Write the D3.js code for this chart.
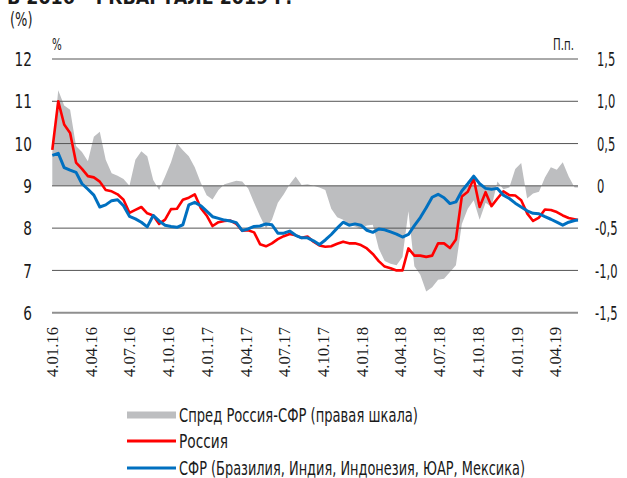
<!DOCTYPE html>
<html>
<head>
<meta charset="utf-8">
<script src="https://cdn.jsdelivr.net/npm/d3@7"></script>
<style>
  body { margin: 0; background: #fff; }
  text { font-family: "Liberation Sans Narrow", "Arial Narrow", "DejaVu Sans Condensed", sans-serif; fill: #1a1a1a; }
</style>
</head>
<body>
<div id="chart"></div>
<script>
// data (fortnightly points)
var dates = ["2016-01-04","2016-01-18","2016-02-01","2016-02-15","2016-02-29","2016-03-14","2016-03-28","2016-04-11","2016-04-25","2016-05-09","2016-05-23","2016-06-06","2016-06-20","2016-07-04","2016-07-18","2016-08-01","2016-08-15","2016-08-29","2016-09-12","2016-09-26","2016-10-10","2016-10-24","2016-11-07","2016-11-21","2016-12-05","2016-12-19",
  "2017-01-02","2017-01-16","2017-01-30","2017-02-13","2017-02-27","2017-03-13","2017-03-27","2017-04-10","2017-04-24","2017-05-08","2017-05-22","2017-06-05","2017-06-19","2017-07-03","2017-07-17","2017-07-31","2017-08-14","2017-08-28","2017-09-11","2017-09-25","2017-10-09","2017-10-23","2017-11-06","2017-11-20","2017-12-04","2017-12-18",
  "2018-01-01","2018-01-15","2018-01-29","2018-02-12","2018-02-26","2018-03-12","2018-03-26","2018-04-09","2018-04-23","2018-05-07","2018-05-21","2018-06-04","2018-06-18","2018-07-02","2018-07-16","2018-07-30","2018-08-13","2018-08-27","2018-09-10","2018-09-24","2018-10-08","2018-10-22","2018-11-05","2018-11-19","2018-12-03","2018-12-17","2018-12-31",
  "2019-01-14","2019-01-28","2019-02-11","2019-02-25","2019-03-11","2019-03-25","2019-04-08","2019-04-22","2019-05-06","2019-05-20","2019-05-28"];

var russia = [9.85,11.0,10.45,10.25,9.55,9.4,9.23,9.2,9.1,8.9,
  8.87,8.8,8.67,8.36,8.43,8.5,8.35,8.3,8.1,8.2,
  8.45,8.46,8.67,8.72,8.8,8.48,8.3,8.05,8.14,8.17,
  8.18,8.1,7.94,7.95,7.9,7.62,7.57,7.64,7.74,7.81,
  7.86,7.83,7.77,7.8,7.68,7.59,7.56,7.57,7.63,7.68,
  7.64,7.64,7.6,7.52,7.39,7.22,7.09,7.05,7.0,7.0,
  7.52,7.35,7.35,7.32,7.35,7.64,7.64,7.53,7.73,8.75,
  8.86,9.17,8.5,8.85,8.52,8.7,8.87,8.78,8.77,8.66,
  8.35,8.17,8.25,8.44,8.43,8.38,8.3,8.24,8.21,8.19];

var sfr = [9.72,9.77,9.43,9.37,9.32,9.05,8.92,8.78,8.5,8.55,
  8.65,8.67,8.53,8.28,8.22,8.14,8.03,8.3,8.17,8.07,
  8.04,8.02,8.08,8.55,8.61,8.53,8.4,8.27,8.23,8.19,
  8.17,8.13,7.94,7.98,8.04,8.05,8.1,8.08,7.88,7.88,
  7.93,7.83,7.77,7.77,7.7,7.61,7.72,7.85,8.0,8.14,
  8.07,8.1,8.07,7.95,7.9,7.98,7.96,7.91,7.86,7.79,
  7.85,8.06,8.25,8.48,8.73,8.8,8.72,8.58,8.62,8.88,
  9.05,9.23,9.05,8.94,8.92,8.94,8.78,8.7,8.59,8.5,
  8.41,8.35,8.34,8.27,8.21,8.14,8.07,8.14,8.18,8.19];

var spread = [0.4,1.13,0.95,0.9,0.47,0.4,0.29,0.58,0.64,0.31,
  0.15,0.12,0.08,0.0,0.31,0.41,0.35,0.07,-0.05,0.11,
  0.28,0.5,0.42,0.35,0.22,0.04,-0.11,-0.16,-0.05,0.02,
  0.04,0.06,0.05,-0.03,-0.2,-0.36,-0.5,-0.4,-0.2,-0.1,
  0.02,0.11,0.01,0.02,0.0,-0.02,-0.05,-0.27,-0.37,-0.4,
  -0.46,-0.48,-0.51,-0.47,-0.46,-0.74,-0.89,-0.92,-0.94,-0.84,
  -0.3,-0.95,-1.05,-1.25,-1.2,-1.11,-1.1,-1.02,-0.94,-0.45,
  -0.27,-0.17,-0.4,-0.2,-0.25,0.05,-0.04,-0.02,0.2,0.27,
  -0.15,-0.09,-0.07,0.1,0.22,0.19,0.28,0.11,-0.02,-0.02];

var tickDates = ["2016-01-04","2016-04-04","2016-07-04","2016-10-04","2017-01-04","2017-04-04","2017-07-04","2017-10-04","2018-01-04","2018-04-04","2018-07-04","2018-10-04","2019-01-04","2019-04-04"];
var tickLabels = ["4.01.16","4.04.16","4.07.16","4.10.16","4.01.17","4.04.17","4.07.17","4.10.17","4.01.18","4.04.18","4.07.18","4.10.18","4.01.19","4.04.19"];
var leftTicks = [6,7,8,9,10,11,12];
var rightTicks = [-1.5,-1,-0.5,0,0.5,1,1.5];
var legendNames = ["Спред Россия-СФР (правая шкала)","Россия","СФР (Бразилия, Индия, Индонезия, ЮАР, Мексика)"];

// setup
var w = 627;
var h = 478;
var parse = d3.utcParse("%Y-%m-%d");
var svg = d3.select("#chart")
            .append("svg")
            .attr("width", w)
            .attr("height", h)
            .style("display", "block")
            .style("background", "#fff");

var x = d3.scaleUtc()
          .domain([parse(dates[0]), parse(dates[dates.length - 1])])
          .range([52.3, 578]);
var yL = d3.scaleLinear().domain([6, 12]).range([312.7, 59]);
var yR = d3.scaleLinear().domain([-1.5, 1.5]).range([312.7, 59]);

var rows = dates.map(function(d, i){
    return {date: parse(d), ru: russia[i], sfr: sfr[i], sp: spread[i]};
});

// squeeze text horizontally (no narrow font installed)
function narrow(px, py, s){
    return "translate(" + px + "," + py + ") scale(" + (s || 0.76) + ",1)";
}

// spread area (right scale)
var area = d3.area()
             .x(function(d){ return x(d.date); })
             .y0(yR(0))
             .y1(function(d){ return yR(d.sp); });
svg.append("path")
   .datum(rows)
   .attr("d", area)
   .attr("fill", "#bdbec0");

// gridlines
svg.append("g")
   .selectAll("line")
   .data(leftTicks.filter(function(t){ return t > 6; }))
   .enter()
   .append("line")
     .attr("x1", 52)
     .attr("x2", 578)
     .attr("y1", function(d){ return yL(d); })
     .attr("y2", function(d){ return yL(d); })
     .attr("stroke", "#555")
     .attr("stroke-width", 1);
svg.append("line")
   .attr("x1", 52).attr("x2", 578)
   .attr("y1", yL(6)).attr("y2", yL(6))
   .attr("stroke", "#8f8f8f")
   .attr("stroke-width", 2);

// lines
var lineRu = d3.line()
               .x(function(d){ return x(d.date); })
               .y(function(d){ return yL(d.ru); });
var lineSfr = d3.line()
                .x(function(d){ return x(d.date); })
                .y(function(d){ return yL(d.sfr); });
svg.append("path")
   .datum(rows)
   .attr("d", lineRu)
   .attr("fill", "none")
   .attr("stroke", "#ff0000")
   .attr("stroke-width", 2.6)
   .attr("stroke-linejoin", "round");
svg.append("path")
   .datum(rows)
   .attr("d", lineSfr)
   .attr("fill", "none")
   .attr("stroke", "#0070c0")
   .attr("stroke-width", 3)
   .attr("stroke-linejoin", "round");

// left / right tick labels
svg.append("g")
   .selectAll("text")
   .data(leftTicks)
   .enter()
   .append("text")
     .attr("transform", function(d){ return narrow(32, yL(d)); })
     .attr("dy", "0.36em")
     .attr("text-anchor", "end")
     .style("font-size", "20px")
     .text(function(d){ return d; });
svg.append("g")
   .selectAll("text")
   .data(rightTicks)
   .enter()
   .append("text")
     .attr("transform", function(d){ return narrow(d < 0 ? 595 : 597, yR(d), 0.64); })
     .attr("dy", "0.36em")
     .style("font-size", "20px")
     .text(function(d){ return d === 0 ? "0" : d3.format(".1f")(d).replace(".", ",").replace("−", "-"); });

// x axis labels
svg.append("g")
   .selectAll("text")
   .data(tickDates)
   .enter()
   .append("text")
     .attr("transform", function(d){ return "translate(" + (x(parse(d)) + 6) + ",327) rotate(-90)"; })
     .attr("text-anchor", "end")
     .attr("textLength", 50)
     .attr("lengthAdjust", "spacingAndGlyphs")
     .style("font-family", "'Liberation Serif', 'DejaVu Serif', serif")
     .style("font-size", "17px")
     .text(function(d, i){ return tickLabels[i]; });

// title (cut off at top) and unit labels
svg.append("text")
   .attr("x", 7).attr("y", 4)
   .attr("textLength", 285)
   .attr("lengthAdjust", "spacingAndGlyphs")
   .style("font-size", "20px")
   .style("font-weight", "bold")
   .text("В 2016 – I КВАРТАЛЕ 2019 Г.");
svg.append("text")
   .attr("transform", narrow(10, 26))
   .style("font-size", "19px")
   .text("(%)");
svg.append("text")
   .attr("transform", narrow(52, 50))
   .style("font-size", "15px")
   .text("%");
svg.append("text")
   .attr("transform", narrow(553, 50))
   .style("font-size", "15px")
   .text("П.п.");

// legend
var legY = [415, 441, 468];
var legLen = [239, 49, 346];
svg.append("rect")
   .attr("x", 127).attr("y", legY[0] - 3.5)
   .attr("width", 49).attr("height", 7)
   .attr("fill", "#bdbec0");
svg.append("line")
   .attr("x1", 127).attr("x2", 176)
   .attr("y1", legY[1]).attr("y2", legY[1])
   .attr("stroke", "#ff0000").attr("stroke-width", 3);
svg.append("line")
   .attr("x1", 127).attr("x2", 176)
   .attr("y1", legY[2]).attr("y2", legY[2])
   .attr("stroke", "#0070c0").attr("stroke-width", 3);
svg.append("g")
   .selectAll("text")
   .data(legendNames)
   .enter()
   .append("text")
     .attr("x", 179)
     .attr("y", function(d, i){ return legY[i]; })
     .attr("dy", "0.36em")
     .attr("textLength", function(d, i){ return legLen[i]; })
     .attr("lengthAdjust", "spacingAndGlyphs")
     .style("font-size", "19px")
     .text(function(d){ return d; });
</script>
</body>
</html>
